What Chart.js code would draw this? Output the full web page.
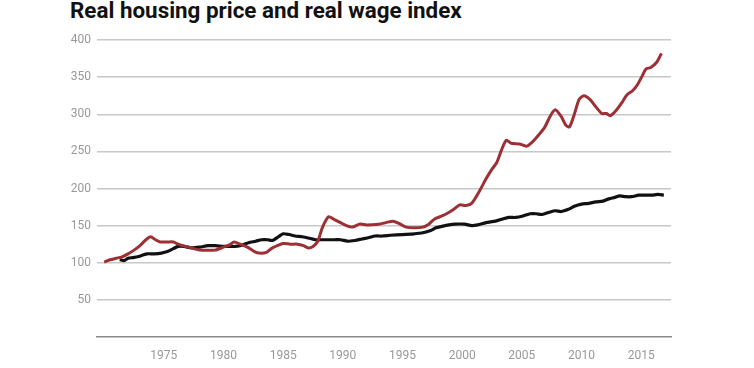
<!DOCTYPE html>
<html>
<head>
<meta charset="utf-8">
<script src="https://cdn.jsdelivr.net/npm/chart.js@4"></script>
<style>
  body { margin: 0; background: #fff; }
  #wrap { position: relative; width: 754px; height: 368px; }
  #title {
    position: absolute; left: 70px; top: -4px; margin: 0;
    font: bold 22.4px Roboto, sans-serif; color: #111; line-height: 28px;
  }
  canvas { position: absolute; left: 0; top: 0; }
</style>
</head>
<body>
<div id="wrap">
  <h1 id="title">Real housing price and real wage index</h1>
  <canvas id="chart" width="754" height="368"></canvas>
</div>
<script>
// housing price index (red)
const houseYears = [1970.0, 1970.5, 1971.0, 1971.5, 1972.0, 1972.5, 1973.0, 1973.5, 1973.9, 1974.3,
  1974.7, 1975.3, 1975.8, 1976.2, 1976.8, 1977.3, 1978.0, 1978.7, 1979.3, 1980.0,
  1980.5, 1980.9, 1981.4, 1982.0, 1982.6, 1983.0, 1983.6, 1984.0, 1984.5, 1985.0,
  1985.6, 1986.2, 1986.7, 1987.1, 1987.5, 1987.9, 1988.3, 1988.8, 1989.3, 1989.8,
  1990.3, 1990.8, 1991.4, 1992.0, 1993.0, 1993.6, 1994.2, 1994.7, 1995.3, 1996.0,
  1996.7, 1997.2, 1997.7, 1998.3, 1998.8, 1999.3, 1999.8, 2000.3, 2000.8, 2001.5,
  2002.0, 2002.5, 2002.9, 2003.3, 2003.7, 2004.1, 2004.8, 2005.4, 2005.9, 2006.4,
  2006.9, 2007.4, 2007.8, 2008.3, 2008.7, 2009.0, 2009.4, 2009.8, 2010.2, 2010.7,
  2011.2, 2011.7, 2012.1, 2012.4, 2012.9, 2013.4, 2013.8, 2014.3, 2014.7, 2015.1,
  2015.4, 2015.8, 2016.3, 2016.7];
const houseIndex = [101, 104, 106, 108, 112, 117, 123, 131, 135, 131,
  128, 128, 128, 125, 122, 120, 117, 117, 117, 121,
  124, 128, 125, 121, 115, 113, 114, 119, 123, 126,
  125, 125, 123, 120, 122, 129, 148, 162, 158, 154,
  150, 148, 152, 151, 152, 154, 156, 153, 148, 147,
  148, 152, 159, 163, 167, 172, 178, 177, 180, 198,
  213, 226, 235, 252, 265, 261, 260, 257, 263, 272,
  282, 298, 306, 297, 285, 283, 300, 320, 325, 320,
  310, 301, 301, 298, 305, 316, 326, 332, 340, 352,
  361, 363, 370, 382];

// real wage index (black)
const wageYears = [1971.3, 1971.7, 1972.0, 1972.4, 1972.8, 1973.2, 1973.6, 1974.2, 1974.8, 1975.3,
  1975.8, 1976.2, 1976.7, 1977.3, 1978.0, 1978.7, 1979.3, 1980.0, 1980.6, 1981.0,
  1981.6, 1982.1, 1982.7, 1983.2, 1983.7, 1984.1, 1984.6, 1985.0, 1985.5, 1986.0,
  1986.6, 1987.2, 1987.7, 1988.3, 1988.8, 1989.3, 1989.8, 1990.4, 1991.0, 1991.6,
  1992.2, 1992.7, 1993.3, 1994.0, 1995.0, 1996.0, 1996.6, 1997.3, 1997.8, 1998.3,
  1998.9, 1999.4, 2000.2, 2000.8, 2001.3, 2002.0, 2002.8, 2003.4, 2003.9, 2004.5,
  2005.1, 2005.7, 2006.2, 2006.7, 2007.3, 2007.8, 2008.3, 2008.9, 2009.4, 2010.0,
  2010.6, 2011.2, 2011.8, 2012.3, 2012.8, 2013.2, 2013.7, 2014.2, 2014.8, 2015.4,
  2015.9, 2016.4, 2016.9];
const wageIndex = [104, 103, 106, 107, 108, 110, 112, 112, 113, 115,
  119, 122, 122, 120, 121, 123, 123, 122, 122, 122,
  124, 127, 129, 131, 131, 130, 135, 139, 138, 136,
  135, 133, 131, 131, 131, 131, 131, 129, 130, 132,
  134, 136, 136, 137, 138, 139, 140, 143, 147, 149,
  151, 152, 152, 150, 151, 154, 156, 159, 161, 161,
  163, 166, 166, 165, 168, 170, 169, 172, 176, 179,
  180, 182, 183, 186, 188, 190, 189, 189, 191, 191,
  191, 192, 191];

const yearTicks = [1975, 1980, 1985, 1990, 1995, 2000, 2005, 2010, 2015];
const valueTicks = [0, 50, 100, 150, 200, 250, 300, 350, 400];

function toPoints(xs, ys) {
  return xs.map((x, i) => ({ x: x, y: ys[i] }));
}

const ctx = document.getElementById('chart').getContext('2d');
new Chart(ctx, {
  type: 'line',
  data: {
    datasets: [
      {
        label: 'Real housing price',
        data: toPoints(houseYears, houseIndex),
        borderColor: '#9c3035',
        borderWidth: 3,
        pointRadius: 0,
        tension: 0.25,
        fill: false
      },
      {
        label: 'Real wage',
        data: toPoints(wageYears, wageIndex),
        borderColor: '#111111',
        borderWidth: 3.2,
        pointRadius: 0,
        tension: 0.25,
        fill: false
      }
    ]
  },
  options: {
    responsive: false,
    animation: false,
    layout: { padding: { top: 40, right: 83, left: 0, bottom: 0 } },
    plugins: {
      legend: { display: false },
      tooltip: { enabled: false }
    },
    scales: {
      x: {
        type: 'linear',
        min: 1969.4,
        max: 2017.5,
        afterBuildTicks: function (scale) {
          scale.ticks = yearTicks.map(v => ({ value: v }));
        },
        afterFit: function (scale) { scale.height = 31; },
        grid: { display: false },
        border: { display: true, color: '#8a8a8a', width: 1.5 },
        ticks: {
          color: '#999',
          font: { family: 'Roboto', size: 12 },
          padding: 4,
          callback: v => String(v)
        }
      },
      y: {
        min: 0,
        max: 400,
        afterBuildTicks: function (scale) {
          scale.ticks = valueTicks.map(v => ({ value: v }));
        },
        afterFit: function (scale) { scale.width = 97; },
        border: { display: false },
        grid: {
          color: c => c.tick.value === 0 ? 'rgba(0,0,0,0)' : '#c8c8c8',
          lineWidth: 1.5,
          drawTicks: false
        },
        ticks: {
          color: '#999',
          font: { family: 'Roboto', size: 12 },
          padding: 6,
          callback: v => v === 0 ? '' : String(v)
        }
      }
    }
  }
});
</script>
</body>
</html>
